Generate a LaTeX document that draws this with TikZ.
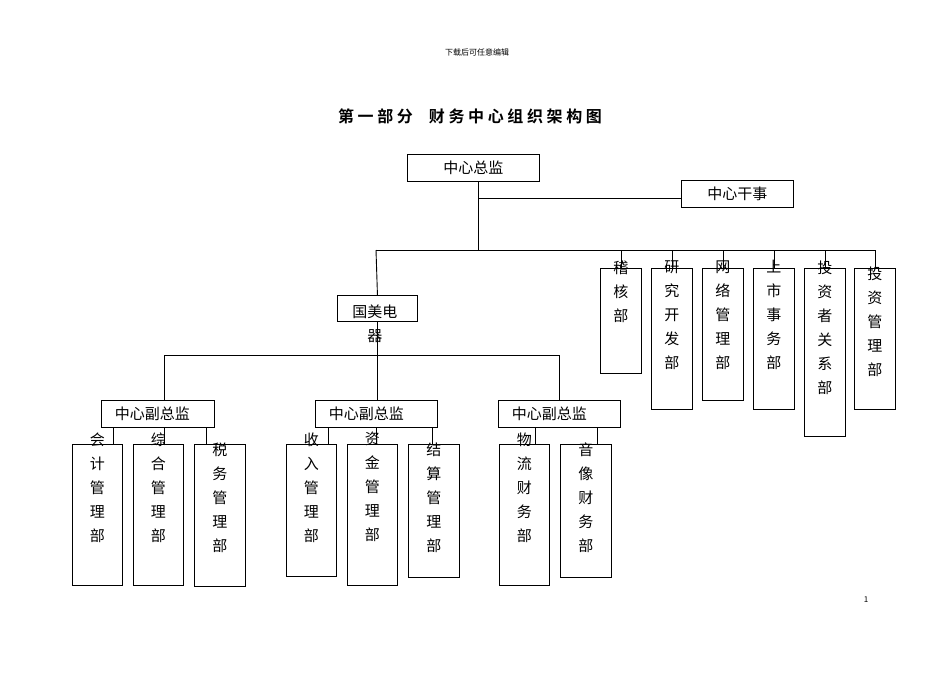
\documentclass[tikz,border=0pt]{standalone}
\usepackage{fontspec}
\setmainfont{Noto Sans CJK SC}
\newfontfamily\cjkb{Noto Sans CJK SC Bold}
\begin{document}
\begin{tikzpicture}[x=1pt,y=-1pt,line width=0.9pt,
  box/.style={draw,rectangle,inner sep=0pt,anchor=north west},
  vt/.style={anchor=north,align=center,font=\fontsize{15}{24}\selectfont,inner sep=0pt},
  ht/.style={font=\fontsize{15}{18}\selectfont}]
\useasboundingbox (0,0) rectangle (950,672);
\node[font=\fontsize{8}{10}\selectfont] (hdr) at (477,52) {下载后可任意编辑};
\node[font=\cjkb\fontsize{16}{20}\selectfont] (title) at (470,116) {第\ 一\ 部\ 分\quad 财\ 务\ 中\ 心\ 组\ 织\ 架\ 构\ 图};
\node[font=\fontsize{8}{10}\selectfont] (pg) at (866,600) {1};
% top
\node[box,minimum width=132,minimum height=27] (zj) at (407,154) {};
\node[ht] at (zj.center) {中心总监};
\node[box,minimum width=112,minimum height=27] (gs) at (681,180) {};
\node[ht] at (gs.center) {中心干事};
\coordinate (t1) at (478,198);
\coordinate (t2) at (478,250);
\draw (zj.south -| t1) -- (t2);
\draw (t1) -- (gs.west |- t1);
\coordinate (bl) at (376,250);
\coordinate (br) at (875,250);
\draw (bl) -- (br);
% right boxes
\newcommand\rb[4]{%
 \node[box,minimum width=41,minimum height=#3] (#1) at (#2,268) {};
 \node[vt] at ([yshift=8]#1.north) {#4};
 \draw (#1.north) -- (#1.north |- bl);}
\rb{r1}{600}{105}{稽\\核\\部}
\rb{r2}{651}{141}{研\\究\\开\\发\\部}
\rb{r3}{702}{132}{网\\络\\管\\理\\部}
\rb{r4}{753}{141}{上\\市\\事\\务\\部}
\rb{r5}{804}{168}{投\\资\\者\\关\\系\\部}
\node[box,minimum width=41,minimum height=141] (r6) at (854,268) {};
\node[vt] at ([yshift=2]r6.north) {投\\资\\管\\理\\部};
\draw (r6.north) -- (r6.north |- bl);
% gome
\node[box,minimum width=80,minimum height=26] (gm) at (337,295) {};
\draw (bl) -- (gm.north);
\node[ht,anchor=north west,align=left,inner sep=0pt] at (352,304) {国美电\\[6pt]\hspace*{15pt}器};
\coordinate (h1) at (164,355);
\coordinate (h2) at (559,355);
\draw (h1) -- (h2);
\newcommand\fz[3]{%
 \node[box,minimum width=#3,minimum height=27] (#1) at (#2,400) {};
 \node[ht,anchor=west] at ([xshift=10]#1.west) {中心副总监};}
\fz{f1}{101}{113}
\fz{f2}{315}{122}
\fz{f3}{498}{122}
\draw (h1) -- (h1 |- f1.north);
\draw (gm.south) -- (gm.south |- f2.north);
\draw (h2) -- (h2 |- f3.north);
% bottom boxes
\newcommand\bb[6]{%
 \node[box,minimum width=#3,minimum height=#4] (#1) at (#2,444) {};
 \node[vt] at ([yshift=#5]#1.north) {#6};
}
\bb{b1}{72}{50}{141}{12}{会\\计\\管\\理\\部}
\bb{b2}{133}{50}{141}{12}{综\\合\\管\\理\\部}
\bb{b3}{194}{51}{142}{2}{税\\务\\管\\理\\部}
\bb{b4}{286}{50}{132}{12}{收\\入\\管\\理\\部}
\bb{b5}{347}{50}{141}{12}{资\\金\\管\\理\\部}
\bb{b6}{408}{51}{133}{2}{结\\算\\管\\理\\部}
\bb{b7}{499}{50}{141}{12}{物\\流\\财\\务\\部}
\bb{b8}{560}{51}{133}{2}{音\\像\\财\\务\\部}
\foreach \b/\x/\f in {b1/113/f1,b2/164/f1,b3/206/f1,b4/328/f2,b5/376/f2,b6/432/f2,b7/535/f3,b8/597/f3}{
  \draw (\x,427) -- (\x,444);
}
\end{tikzpicture}
\end{document}
